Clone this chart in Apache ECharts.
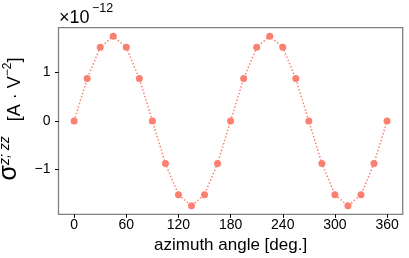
<!DOCTYPE html>
<html>
<head>
<meta charset="utf-8">
<script src="https://cdn.jsdelivr.net/npm/echarts@6/dist/echarts.min.js"></script>
<style>
html,body{margin:0;padding:0;background:#fff;}
#chart{width:409px;height:258px;}
</style>
</head>
<body>
<div id="chart"></div>
<script>
// azimuth angles (deg.)
const angles = [0,15,30,45,60,75,90,105,120,135,150,165,180,195,210,225,240,255,270,285,300,315,330,345,360];
// sigma^{z;zz} values in units of 1e-12 A·V^-2
const sigmaE12 = [0,0.875,1.52,1.75,1.52,0.875,0,-0.875,-1.52,-1.75,-1.52,-0.875,0,0.875,1.52,1.75,1.52,0.875,0,-0.875,-1.52,-1.75,-1.52,-0.875,0];
// tick labels
const xTicks = [0,60,120,180,240,300,360];
const yTicks = [-1,0,1];

const FONT = '"Liberation Sans", Arial, sans-serif';
const col = '#fa8072';
const chart = echarts.init(document.getElementById('chart'), null, {renderer:'canvas'});
const data = angles.map((a,i)=>[a, sigmaE12[i]]);
chart.setOption({
  animation:false,
  grid:{left:58.5, right:6.3, top:27.7, bottom:43.7, containLabel:false, outerBoundsMode:'none',
        show:true, borderColor:'#808080', borderWidth:1.3, backgroundColor:'transparent'},
  xAxis:{
    type:'value', min:-18, max:378,
    name:'azimuth angle [deg.]', nameLocation:'middle', nameGap:22,
    nameTextStyle:{fontFamily:FONT, fontSize:17, color:'#000'},
    axisLine:{show:false, onZero:false},
    axisTick:{show:true, customValues:xTicks, length:3.5, lineStyle:{color:'#000', width:1}},
    axisLabel:{customValues:xTicks, fontFamily:FONT, fontSize:14, color:'#000', margin:4},
    splitLine:{show:false}
  },
  yAxis:{
    type:'value', min:-1.925, max:1.925,
    axisLine:{show:false, onZero:false},
    axisTick:{show:true, customValues:yTicks, length:3.5, lineStyle:{color:'#000', width:1}},
    axisLabel:{customValues:yTicks, fontFamily:FONT, fontSize:14, color:'#000', margin:8,
      formatter:v=> v<0 ? '\u2212'+Math.abs(v) : String(v)},
    splitLine:{show:false},
    name:'{s|σ}{sup|z; zz}{b|   [A · V}{sup2|−2}{b|]}',
    nameLocation:'middle', nameRotate:90, nameGap:22,
    nameTextStyle:{
      fontFamily:FONT, color:'#000', padding:[0,0,0,4],
      rich:{
        s:{fontFamily:FONT, fontSize:25, lineHeight:25, verticalAlign:'bottom', padding:[0,0,2,0]},
        sup:{fontFamily:FONT, fontSize:14, lineHeight:14, fontStyle:'italic', verticalAlign:'bottom', padding:[0,0,12,0]},
        b:{fontFamily:FONT, fontSize:18, lineHeight:18, verticalAlign:'bottom'},
        sup2:{fontFamily:FONT, fontSize:12, lineHeight:12, verticalAlign:'bottom', padding:[0,0,10,0]}
      }
    }
  },
  graphic:[
    {type:'text', left:59, top:9.5, style:{text:'×10', fontFamily:FONT, fontSize:18, fill:'#000'}},
    {type:'text', left:92, top:2.5, style:{text:'−12', fontFamily:FONT, fontSize:12.5, fill:'#000'}}
  ],
  series:[{
    type:'line', data:data,
    symbol:'circle', symbolSize:7,
    itemStyle:{color:col},
    lineStyle:{color:col, width:1.5, type:[1.5,2]},
    clip:false
  }]
});
</script>
</body>
</html>
